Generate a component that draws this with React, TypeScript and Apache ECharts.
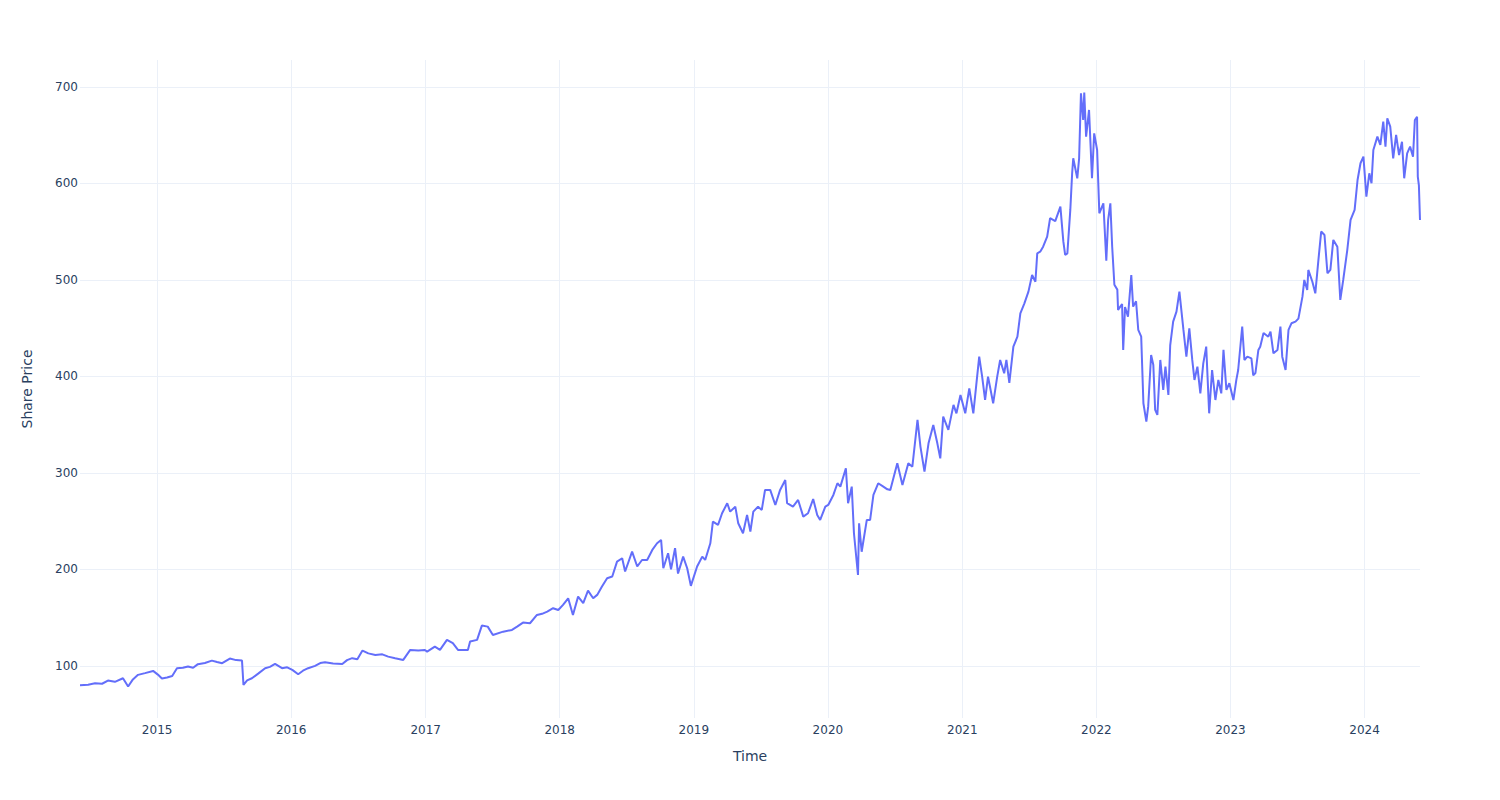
import React, { useEffect, useRef } from "react";
import * as echarts from "echarts";

const dates: string[] = [
  "2014-06-05", "2014-06-27", "2014-07-16", "2014-08-04", "2014-08-20", "2014-09-08", "2014-09-30", "2014-10-14",
  "2014-10-27", "2014-11-10", "2014-11-29", "2014-12-21", "2015-01-03", "2015-01-14", "2015-01-28", "2015-02-11",
  "2015-02-24", "2015-03-12", "2015-03-26", "2015-04-09", "2015-04-22", "2015-05-11", "2015-05-30", "2015-06-13",
  "2015-06-27", "2015-07-18", "2015-08-04", "2015-08-20", "2015-08-24", "2015-09-03", "2015-09-16", "2015-10-03",
  "2015-10-22", "2015-11-04", "2015-11-18", "2015-12-07", "2015-12-21", "2016-01-04", "2016-01-20", "2016-02-02",
  "2016-02-16", "2016-03-06", "2016-03-20", "2016-04-02", "2016-04-24", "2016-05-19", "2016-06-01", "2016-06-15",
  "2016-06-29", "2016-07-13", "2016-07-29", "2016-08-17", "2016-09-05", "2016-09-21", "2016-10-10", "2016-11-01",
  "2016-11-20", "2016-12-12", "2016-12-30", "2017-01-05", "2017-01-26", "2017-02-09", "2017-02-28", "2017-03-16",
  "2017-03-30", "2017-04-26", "2017-05-02", "2017-05-21", "2017-06-03", "2017-06-19", "2017-07-03", "2017-07-31",
  "2017-08-24", "2017-09-07", "2017-09-23", "2017-10-12", "2017-10-31", "2017-11-14", "2017-11-28", "2017-12-14",
  "2017-12-28", "2018-01-10", "2018-01-24", "2018-02-06", "2018-02-20", "2018-03-06", "2018-03-19", "2018-04-02",
  "2018-04-13", "2018-04-26", "2018-05-10", "2018-05-24", "2018-06-06", "2018-06-20", "2018-06-28", "2018-07-17",
  "2018-07-31", "2018-08-13", "2018-08-27", "2018-09-10", "2018-09-23", "2018-10-04", "2018-10-10", "2018-10-23",
  "2018-10-31", "2018-11-11", "2018-11-19", "2018-12-03", "2018-12-14", "2018-12-24", "2019-01-10", "2019-01-24",
  "2019-02-01", "2019-02-15", "2019-02-22", "2019-03-08", "2019-03-19", "2019-04-02", "2019-04-10", "2019-04-24",
  "2019-05-02", "2019-05-15", "2019-05-26", "2019-06-04", "2019-06-12", "2019-06-25", "2019-07-05", "2019-07-14",
  "2019-07-28", "2019-08-11", "2019-08-24", "2019-09-07", "2019-09-12", "2019-09-28", "2019-10-12", "2019-10-26",
  "2019-11-08", "2019-11-22", "2019-12-03", "2019-12-11", "2019-12-25", "2020-01-02", "2020-01-16", "2020-01-27",
  "2020-02-04", "2020-02-19", "2020-02-25", "2020-03-06", "2020-03-12", "2020-03-23", "2020-03-26", "2020-04-02",
  "2020-04-16", "2020-04-25", "2020-05-04", "2020-05-17", "2020-05-31", "2020-06-11", "2020-06-19", "2020-07-08",
  "2020-07-22", "2020-08-07", "2020-08-18", "2020-09-01", "2020-09-09", "2020-09-20", "2020-10-01", "2020-10-14",
  "2020-10-25", "2020-11-02", "2020-11-10", "2020-11-24", "2020-12-08", "2020-12-16", "2020-12-27", "2021-01-09",
  "2021-01-20", "2021-01-31", "2021-02-08", "2021-02-16", "2021-02-24", "2021-03-04", "2021-03-12", "2021-03-26",
  "2021-04-06", "2021-04-14", "2021-04-25", "2021-05-01", "2021-05-09", "2021-05-20", "2021-05-31", "2021-06-08",
  "2021-06-19", "2021-06-30", "2021-07-10", "2021-07-19", "2021-07-24", "2021-08-01", "2021-08-09", "2021-08-20",
  "2021-08-28", "2021-09-11", "2021-09-25", "2021-10-03", "2021-10-08", "2021-10-14", "2021-10-22", "2021-10-27",
  "2021-10-30", "2021-11-10", "2021-11-15", "2021-11-20", "2021-11-26", "2021-11-29", "2021-12-04", "2021-12-12",
  "2021-12-20", "2021-12-26", "2022-01-03", "2022-01-09", "2022-01-20", "2022-01-28", "2022-02-02", "2022-02-08",
  "2022-02-13", "2022-02-19", "2022-02-27", "2022-03-01", "2022-03-07", "2022-03-12", "2022-03-15", "2022-03-20",
  "2022-03-28", "2022-04-06", "2022-04-11", "2022-04-19", "2022-04-25", "2022-05-03", "2022-05-09", "2022-05-17",
  "2022-05-22", "2022-05-30", "2022-06-05", "2022-06-10", "2022-06-16", "2022-06-24", "2022-07-02", "2022-07-08",
  "2022-07-16", "2022-07-21", "2022-07-29", "2022-08-07", "2022-08-15", "2022-08-26", "2022-09-03", "2022-09-11",
  "2022-09-19", "2022-09-25", "2022-10-03", "2022-10-11", "2022-10-19", "2022-10-27", "2022-11-04", "2022-11-12",
  "2022-11-21", "2022-11-29", "2022-12-07", "2022-12-13", "2022-12-21", "2022-12-29", "2023-01-09", "2023-01-17",
  "2023-01-22", "2023-02-02", "2023-02-08", "2023-02-16", "2023-02-27", "2023-03-04", "2023-03-10", "2023-03-18",
  "2023-03-23", "2023-04-01", "2023-04-14", "2023-04-20", "2023-04-28", "2023-05-09", "2023-05-17", "2023-05-22",
  "2023-05-31", "2023-06-08", "2023-06-16", "2023-06-27", "2023-07-05", "2023-07-16", "2023-07-21", "2023-07-29",
  "2023-08-01", "2023-08-12", "2023-08-20", "2023-08-28", "2023-09-05", "2023-09-14", "2023-09-22", "2023-09-30",
  "2023-10-08", "2023-10-19", "2023-10-27", "2023-11-04", "2023-11-15", "2023-11-24", "2023-12-05", "2023-12-13",
  "2023-12-21", "2023-12-29", "2024-01-06", "2024-01-14", "2024-01-20", "2024-01-25", "2024-02-05", "2024-02-13",
  "2024-02-21", "2024-02-27", "2024-03-03", "2024-03-11", "2024-03-19", "2024-03-27", "2024-04-04", "2024-04-12",
  "2024-04-18", "2024-04-26", "2024-05-04", "2024-05-12", "2024-05-17", "2024-05-23", "2024-05-25", "2024-05-28",
  "2024-05-31",
];

const prices: number[] = [
  80.0, 80.5, 82.0, 81.5, 84.8, 83.5, 87.2, 78.6,
  86.0, 90.7, 92.5, 94.8, 91.0, 87.0, 88.0, 89.6,
  97.6, 98.0, 99.3, 98.0, 101.8, 103.0, 105.5, 104.0,
  102.8, 107.6, 106.0, 105.5, 80.3, 85.0, 87.2, 92.0,
  97.6, 99.0, 102.0, 97.6, 98.5, 95.9, 91.4, 95.0,
  97.6, 100.0, 103.0, 103.8, 102.5, 102.0, 106.0, 108.0,
  107.0, 115.9, 113.0, 111.4, 112.0, 109.6, 108.0, 106.2,
  116.6, 116.0, 116.5, 114.8, 120.0, 116.6, 127.0, 123.5,
  116.6, 116.6, 125.2, 127.0, 141.8, 140.7, 132.1, 135.5,
  137.3, 140.7, 144.9, 144.2, 152.8, 154.0, 156.3, 159.8,
  158.0, 163.2, 170.1, 152.8, 171.8, 165.0, 178.0, 170.1,
  173.6, 182.2, 190.9, 192.6, 208.1, 211.6, 197.8, 218.5,
  203.0, 209.8, 209.8, 220.2, 227.1, 230.6, 201.2, 216.8,
  200.2, 222.0, 195.7, 213.3, 201.2, 183.0, 203.0, 213.3,
  209.8, 227.1, 249.5, 246.1, 258.2, 268.6, 259.9, 265.0,
  247.8, 237.5, 256.5, 239.2, 259.9, 265.0, 261.7, 282.4,
  282.4, 266.8, 282.4, 292.7, 268.6, 265.0, 272.0, 254.7,
  258.2, 273.0, 256.5, 251.3, 265.0, 266.8, 277.2, 289.3,
  285.8, 304.9, 268.6, 285.8, 237.5, 194.3, 247.8, 218.3,
  251.3, 251.3, 277.2, 289.3, 285.8, 283.0, 282.4, 310.0,
  287.6, 310.0, 306.5, 354.9, 327.3, 301.4, 330.7, 349.7,
  330.7, 315.1, 358.3, 344.6, 370.5, 361.8, 380.8, 361.8,
  387.7, 361.8, 391.2, 420.5, 399.8, 375.6, 399.8, 372.2,
  399.8, 417.1, 403.3, 417.1, 393.3, 430.9, 441.2, 465.5,
  475.8, 487.9, 505.2, 498.2, 527.6, 529.3, 534.5, 545.0,
  564.0, 561.0, 576.0, 540.0, 526.0, 527.6, 572.6, 610.6,
  626.1, 605.4, 626.1, 693.5, 665.8, 694.2, 648.6, 676.2,
  605.4, 652.0, 634.7, 569.1, 579.5, 520.0, 562.2, 579.5,
  534.5, 495.0, 490.0, 468.9, 472.4, 475.0, 427.5, 472.0,
  462.0, 505.2, 472.4, 478.0, 448.2, 441.2, 372.2, 353.2,
  368.7, 422.3, 411.9, 365.3, 360.1, 417.1, 386.0, 410.2,
  380.8, 432.6, 456.8, 467.2, 487.9, 448.2, 420.5, 449.9,
  417.1, 396.4, 410.2, 382.5, 413.6, 430.9, 361.8, 406.7,
  375.6, 396.4, 382.5, 427.5, 386.0, 393.0, 375.6, 396.4,
  406.7, 451.7, 417.1, 420.5, 418.8, 401.2, 403.6, 427.5,
  430.9, 445.0, 441.2, 446.4, 424.0, 427.5, 451.7, 420.5,
  406.7, 448.2, 455.1, 456.8, 460.0, 482.7, 500.0, 489.6,
  510.4, 498.2, 486.2, 519.1, 550.2, 546.6, 507.0, 510.4,
  541.5, 534.5, 479.3, 500.0, 531.0, 562.2, 572.6, 603.6,
  621.0, 627.8, 586.4, 610.6, 600.3, 634.7, 648.6, 640.0,
  664.1, 638.2, 667.6, 659.0, 626.1, 650.3, 629.5, 643.3,
  605.4, 631.3, 638.2, 627.8, 665.8, 669.2, 607.1, 598.0,
  562.2,
];

const xTitle = "Time";
const yTitle = "Share Price";
const xMin = "2014-06-05";
const xMax = "2024-05-31";
const yMin = 46;
const yMax = 728;

const FONT = "DejaVu Sans, Verdana, sans-serif";
const TEXT = "#2a3f5f";
const GRID = "#EBF0F8";

export default function App() {
  const ref = useRef<HTMLDivElement>(null);
  useEffect(() => {
    if (!ref.current) return;
    const chart = echarts.init(ref.current, undefined, { renderer: "svg" });
    const YEAR = 365 * 24 * 3600 * 1000;
    chart.setOption({
      animation: false,
      backgroundColor: "#ffffff",
      grid: { left: 80, right: 80, top: 60, bottom: 82 },
      xAxis: {
        type: "time",
        min: xMin,
        max: xMax,
        splitNumber: 10,
        minInterval: YEAR,
        axisLine: { show: false },
        axisTick: { show: false },
        splitLine: { show: true, showMinLine: false, showMaxLine: false, lineStyle: { color: GRID, width: 1 } },
        axisLabel: {
          color: TEXT,
          fontSize: 12,
          fontFamily: FONT,
          margin: 6,
          showMinLabel: false,
          showMaxLabel: false,
          formatter: "{yyyy}",
        },
        name: xTitle,
        nameLocation: "middle",
        nameGap: 31,
        nameTextStyle: { color: TEXT, fontSize: 14, fontFamily: FONT },
      },
      yAxis: {
        type: "value",
        min: yMin,
        max: yMax,
        splitNumber: 7,
        axisLine: { show: false },
        axisTick: { show: false },
        splitLine: { show: true, showMinLine: false, showMaxLine: false, lineStyle: { color: GRID, width: 1 } },
        axisLabel: {
          color: TEXT,
          fontSize: 12,
          fontFamily: FONT,
          margin: 2,
          formatter: (v: number) => (v % 100 === 0 ? String(v) : ""),
        },
        name: yTitle,
        nameLocation: "middle",
        nameGap: 46,
        nameTextStyle: { color: TEXT, fontSize: 14, fontFamily: FONT },
      },
      series: [
        {
          type: "line",
          data: dates.map((d, i) => [d, prices[i]]),
          showSymbol: false,
          symbol: "none",
          lineStyle: { color: "#636efa", width: 2 },
          itemStyle: { color: "#636efa" },
        },
      ],
    });
    return () => chart.dispose();
  }, []);
  return (
    <div
      ref={ref}
      style={{ position: "absolute", left: 0, top: 0, width: 1500, height: 800 }}
    />
  );
}
